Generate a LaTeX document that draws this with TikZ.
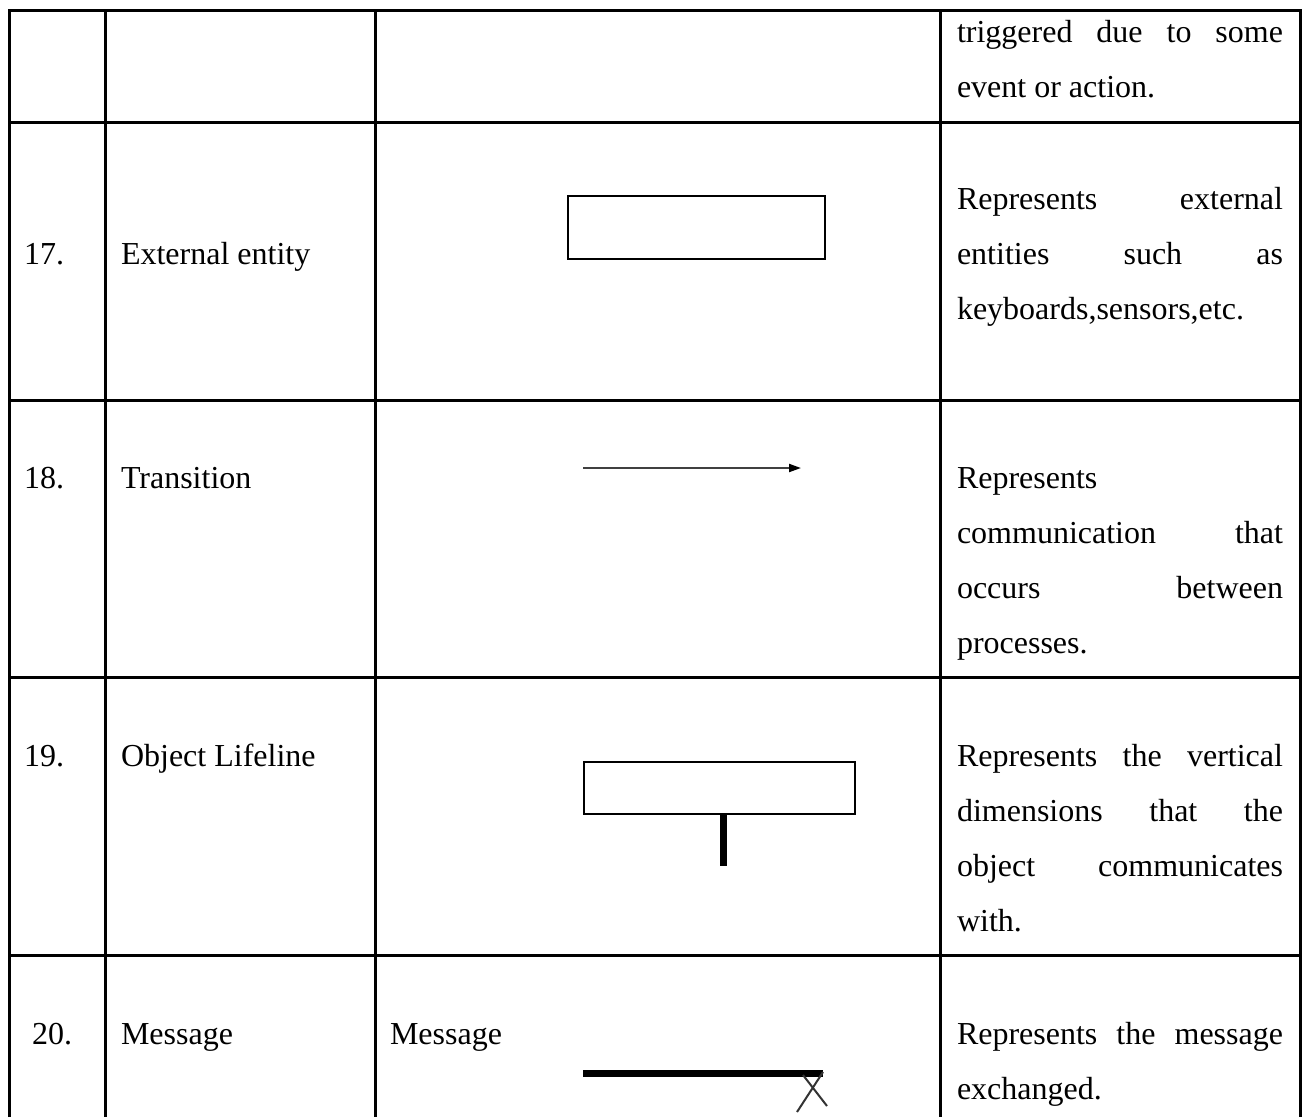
\documentclass[tikz,border=0pt]{standalone}
\usepackage{fontspec}
\setmainfont{Liberation Serif}
\usetikzlibrary{arrows.meta}
\definecolor{linegray}{HTML}{404040}
\definecolor{crossgray}{HTML}{333333}
\tikzset{
  grid/.style={line width=3pt, black},
  cell/.style={anchor=base west, inner sep=0pt, outer sep=0pt,
    font=\fontsize{32}{55}\selectfont, yshift=-2pt},
  symbolbox/.style={draw=black, line width=2pt, fill=white},
}
\newcommand{\jline}[1]{\makebox[326pt][s]{#1}}
\begin{document}
\begin{tikzpicture}[x=1pt, y=-1pt]
  \useasboundingbox (0,0) rectangle (1306,1117);
  \fill[white] (0,0) rectangle (1306,1117);

  % table rules
  \draw[grid] (9,1117) -- (9,10) -- (1300,10) -- (1300,1117);
  \draw[grid] (105,10) -- (105,1117);
  \draw[grid] (375,10) -- (375,1117);
  \draw[grid] (940,10) -- (940,1117);
  \foreach \yy in {122,400,677,955} {
    \draw[grid] (9,\yy) -- (1300,\yy);
  }

  % row 16 (continued description)
  \node[cell] (d16a) at (957,40) {\jline{triggered due to some}};
  \node[cell] (d16b) at (957,95) {event or action.};

  % row 17
  \node[cell] (n17) at (24,262) {17.};
  \node[cell] (t17) at (121,262) {External entity};
  \node[symbolbox, anchor=north west, minimum width=257pt, minimum height=63pt] (ext) at (567,195) {};
  \node[cell] (d17a) at (957,207) {\jline{Represents external}};
  \node[cell] (d17b) at (957,262) {\jline{entities such as}};
  \node[cell] (d17c) at (957,317) {keyboards,sensors,etc.};

  % row 18
  \node[cell] (n18) at (24,486) {18.};
  \node[cell] (t18) at (121,486) {Transition};
  \coordinate (trA) at (583,468);
  \coordinate (trB) at (801,468);
  \draw[linegray, line width=2pt, -{Triangle[length=12pt,width=8pt,color=black]}] (trA) -- (trB);
  \node[cell] (d18a) at (957,486) {Represents};
  \node[cell] (d18b) at (957,541) {\jline{communication that}};
  \node[cell] (d18c) at (957,596) {\jline{occurs between}};
  \node[cell] (d18d) at (957,651) {processes.};

  % row 19
  \node[cell] (n19) at (24,764) {19.};
  \node[cell] (t19) at (121,764) {Object Lifeline};
  \node[symbolbox, anchor=north west, minimum width=271pt, minimum height=52pt] (obj) at (583,761) {};
  \coordinate (lifeEnd) at (723,866);
  \draw[black, line width=7pt] (obj.south -| lifeEnd) -- (lifeEnd);
  \node[cell] (d19a) at (957,764) {\jline{Represents the vertical}};
  \node[cell] (d19b) at (957,819) {\jline{dimensions that the}};
  \node[cell] (d19c) at (957,874) {\jline{object communicates}};
  \node[cell] (d19d) at (957,929) {with.};

  % row 20
  \node[cell] (n20) at (32,1042) {20.};
  \node[cell] (t20) at (121,1042) {Message};
  \node[cell] (s20) at (390,1042) {Message};
  \coordinate (msgA) at (583,1073);
  \coordinate (msgB) at (823,1073);
  \draw[black, line width=7pt] (msgA) -- (msgB);
  \coordinate (xa) at (803,1075);
  \coordinate (xb) at (827,1106);
  \coordinate (xc) at (823,1072);
  \coordinate (xd) at (797,1112);
  \draw[crossgray, line width=2pt] (xa) -- (xb);
  \draw[crossgray, line width=2pt] (xc) -- (xd);
  \node[cell] (d20a) at (957,1042) {\jline{Represents the message}};
  \node[cell] (d20b) at (957,1097) {exchanged.};
\end{tikzpicture}
\end{document}
